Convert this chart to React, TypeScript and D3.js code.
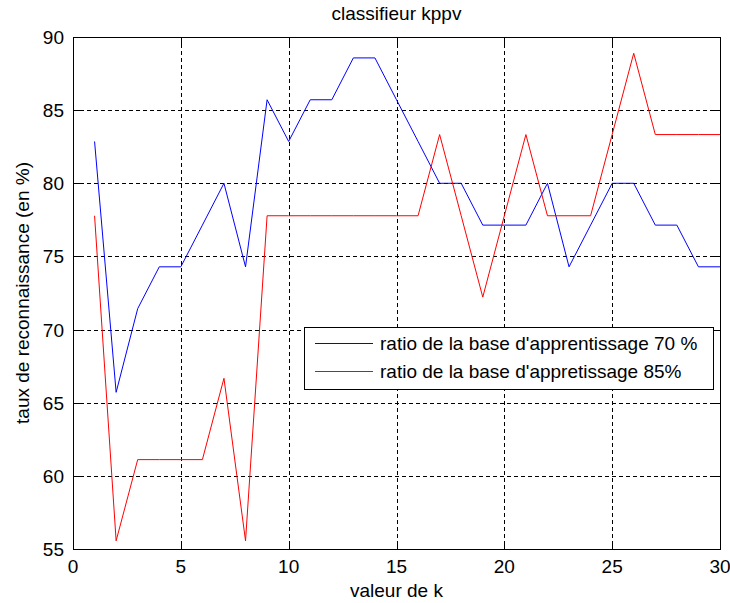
import React from "react";
import * as d3 from "d3";

const kValues = [1,2,3,4,5,6,7,8,9,10,11,12,13,14,15,16,17,18,19,20,21,22,23,24,25,26,27,28,29,30];
const ratio70 = [82.86,65.71,71.43,74.29,74.29,77.14,80,74.29,85.71,82.86,85.71,85.71,88.57,88.57,85.71,82.86,80,80,77.14,77.14,77.14,80,74.29,77.14,80,80,77.14,77.14,74.29,74.29];
const ratio85 = [77.78,55.56,61.11,61.11,61.11,61.11,66.67,55.56,77.78,77.78,77.78,77.78,77.78,77.78,77.78,77.78,83.33,77.78,72.22,77.78,83.33,77.78,77.78,77.78,83.33,88.89,83.33,83.33,83.33,83.33];
const xTicks = [0,5,10,15,20,25,30];
const yTicks = [55,60,65,70,75,80,85,90];
const seriesNames = ["ratio de la base d'apprentissage 70 %", "ratio de la base d'appretissage 85%"];
const seriesColors = ["#0000ff", "#ff0000"];

const W = 730, H = 603;
const L = 73, R = 720, T = 37, B = 549;
const FONT = "'Liberation Sans', Arial, sans-serif";

export default function App() {
  const x = d3.scaleLinear().domain([0, 30]).range([L, R]);
  const y = d3.scaleLinear().domain([55, 90]).range([B, T]);
  const c = (v: number) => Math.round(v) + 0.5;
  const line = d3.line<number>().x((_, i) => x(kValues[i])).y(d => y(d));
  const series = [ratio70, ratio85];
  const tick = 7;
  const lg = { x0: 304, y0: 327, x1: 713, y1: 389 };
  const rows = [343, 371];
  return (
    <svg width={W} height={H} style={{ position: "absolute", left: 0, top: 0, background: "#fff" }} fontFamily={FONT}>
      <rect x={0} y={0} width={W} height={H} fill="#fff" />
      {/* grid */}
      {xTicks.filter(t => t > 0 && t < 30).map(t => (
        <line key={"gx" + t} x1={c(x(t))} x2={c(x(t))} y1={T} y2={B} stroke="#000" strokeWidth={1} strokeDasharray="4,3" />
      ))}
      {yTicks.filter(t => t > 55 && t < 90).map(t => (
        <line key={"gy" + t} x1={L} x2={R} y1={c(y(t))} y2={c(y(t))} stroke="#000" strokeWidth={1} strokeDasharray="4,3" />
      ))}
      {/* ticks */}
      {xTicks.map(t => (
        <g key={"tx" + t}>
          <line x1={c(x(t))} x2={c(x(t))} y1={B} y2={B - tick} stroke="#000" />
          <line x1={c(x(t))} x2={c(x(t))} y1={T} y2={T + tick} stroke="#000" />
        </g>
      ))}
      {yTicks.map(t => (
        <g key={"ty" + t}>
          <line x1={L} x2={L + tick} y1={c(y(t))} y2={c(y(t))} stroke="#000" />
          <line x1={R} x2={R - tick} y1={c(y(t))} y2={c(y(t))} stroke="#000" />
        </g>
      ))}
      {/* series */}
      {series.map((s, i) => (
        <path key={"s" + i} d={line(s) || ""} fill="none" stroke={seriesColors[i]} strokeWidth={1} />
      ))}
      {/* box */}
      <rect x={c(L)} y={c(T)} width={Math.round(R) - Math.round(L)} height={Math.round(B) - Math.round(T)} fill="none" stroke="#000" strokeWidth={1} />
      {/* tick labels */}
      {xTicks.map(t => (
        <text key={"lx" + t} x={x(t)} y={573} textAnchor="middle" fontSize={19} fill="#000">{t}</text>
      ))}
      {yTicks.map(t => (
        <text key={"ly" + t} x={64} y={y(t) + 7} textAnchor="end" fontSize={19} fill="#000">{t}</text>
      ))}
      {/* title & labels */}
      <text x={(L + R) / 2} y={20} textAnchor="middle" fontSize={19} fill="#000">classifieur kppv</text>
      <text x={(L + R) / 2} y={597} textAnchor="middle" fontSize={19} fill="#000">valeur de k</text>
      <text transform={`translate(29,${(T + B) / 2}) rotate(-90)`} textAnchor="middle" fontSize={19} fill="#000">taux de reconnaissance (en %)</text>
      {/* legend */}
      <rect x={lg.x0 + 0.5} y={lg.y0 + 0.5} width={lg.x1 - lg.x0} height={lg.y1 - lg.y0} fill="#fff" stroke="#000" strokeWidth={1} />
      {seriesNames.map((n, i) => (
        <g key={"lg" + i}>
          <line x1={315} x2={373} y1={rows[i] + 0.5} y2={rows[i] + 0.5} stroke={seriesColors[i]} strokeWidth={1} />
          <text x={380} y={rows[i] + 7} fontSize={19} fill="#000">{n}</text>
        </g>
      ))}
    </svg>
  );
}
